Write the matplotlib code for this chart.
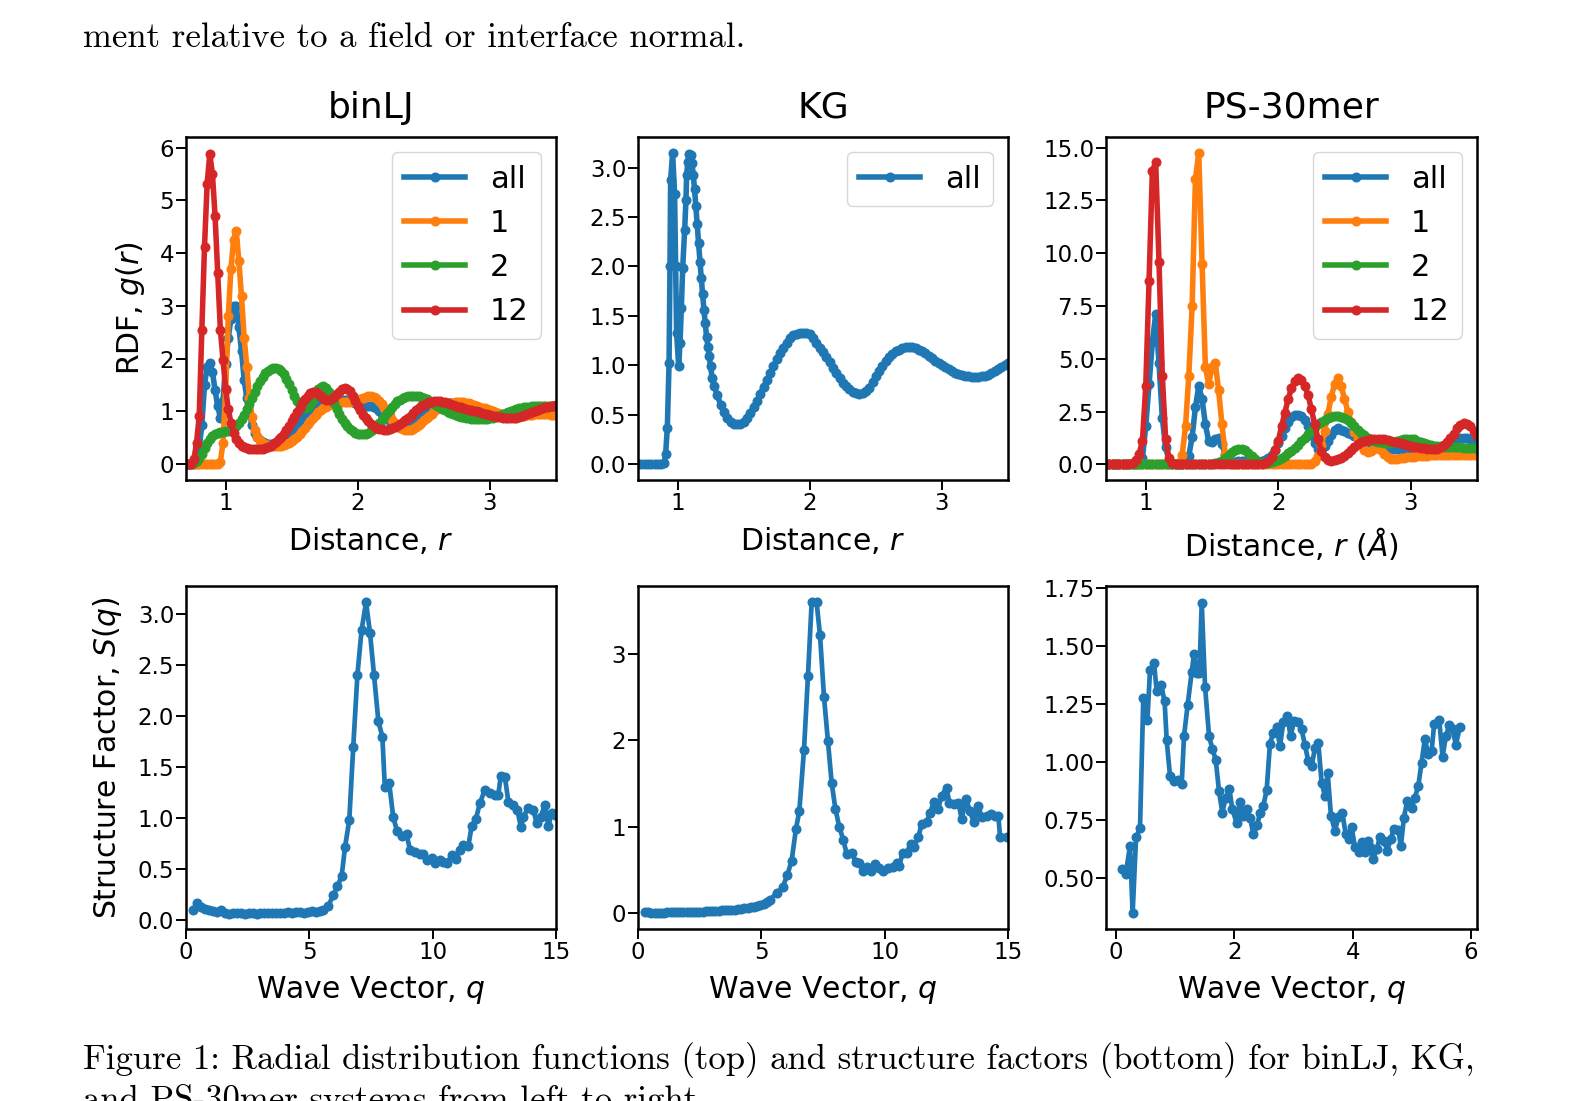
import matplotlib
matplotlib.use("Agg")
import matplotlib.pyplot as plt

# ---------------- binLJ RDF (top left) ----------------
r_lj = [0.70, 0.72, 0.74, 0.76, 0.78, 0.80, 0.82, 0.84, 0.86, 0.88,
        0.90, 0.92, 0.94, 0.96, 0.98, 1.00, 1.02, 1.04, 1.06, 1.08,
        1.10, 1.12, 1.14, 1.16, 1.18, 1.20, 1.22, 1.24, 1.26, 1.28,
        1.30, 1.32, 1.34, 1.36, 1.38, 1.40, 1.42, 1.44, 1.46, 1.48,
        1.50, 1.52, 1.54, 1.56, 1.58, 1.60, 1.62, 1.64, 1.66, 1.68,
        1.70, 1.72, 1.74, 1.76, 1.78, 1.80, 1.82, 1.84, 1.86, 1.88,
        1.90, 1.92, 1.94, 1.96, 1.98, 2.00, 2.02, 2.04, 2.06, 2.08,
        2.10, 2.12, 2.14, 2.16, 2.18, 2.20, 2.22, 2.24, 2.26, 2.28,
        2.30, 2.32, 2.34, 2.36, 2.38, 2.40, 2.42, 2.44, 2.46, 2.48,
        2.50, 2.52, 2.54, 2.56, 2.58, 2.60, 2.62, 2.64, 2.66, 2.68,
        2.70, 2.72, 2.74, 2.76, 2.78, 2.80, 2.82, 2.84, 2.86, 2.88,
        2.90, 2.92, 2.94, 2.96, 2.98, 3.00, 3.02, 3.04, 3.06, 3.08,
        3.10, 3.12, 3.14, 3.16, 3.18, 3.20, 3.22, 3.24, 3.26, 3.28,
        3.30, 3.32, 3.34, 3.36, 3.38, 3.40, 3.42, 3.44, 3.46, 3.48,
        3.50]
g_lj_all = [0, 0, 0, 0, 0.05, 0.3, 0.75, 1.5, 1.85, 1.92,
            1.75, 1.4, 1.1, 0.88, 1.2, 1.9, 2.4, 2.75, 3.0, 3.0,
            2.6, 2.15, 1.6, 1.25, 0.95, 0.75, 0.6, 0.52, 0.46, 0.42,
            0.4, 0.39, 0.39, 0.39, 0.4, 0.42, 0.44, 0.48, 0.52, 0.57,
            0.62, 0.68, 0.74, 0.8, 0.86, 0.92, 0.98, 1.03, 1.08, 1.12,
            1.15, 1.17, 1.18, 1.19, 1.19, 1.2, 1.2, 1.21, 1.22, 1.22,
            1.22, 1.21, 1.2, 1.18, 1.15, 1.12, 1.1, 1.1, 1.1, 1.1,
            1.1, 1.08, 1.06, 1.01, 0.96, 0.9, 0.85, 0.81, 0.77, 0.75,
            0.73, 0.72, 0.73, 0.75, 0.77, 0.8, 0.84, 0.88, 0.92, 0.96,
            1.0, 1.04, 1.07, 1.1, 1.12, 1.14, 1.15, 1.16, 1.16, 1.16,
            1.16, 1.16, 1.15, 1.14, 1.13, 1.12, 1.1, 1.08, 1.07, 1.06,
            1.05, 1.03, 1.02, 1.0, 0.99, 0.98, 0.97, 0.96, 0.95, 0.94,
            0.93, 0.92, 0.92, 0.92, 0.92, 0.92, 0.93, 0.94, 0.95, 0.96,
            0.97, 0.98, 0.99, 1.0, 1.0, 1.0, 1.01, 1.01, 1.01, 1.01,
            1.01]
g_lj_1 = [0, 0, 0, 0, 0, 0, 0, 0, 0, 0,
          0, 0, 0, 0.05, 0.4, 1.4, 2.8, 3.7, 4.25, 4.42,
          3.85, 3.18, 2.4, 1.85, 1.25, 0.9, 0.65, 0.52, 0.45, 0.4,
          0.37, 0.36, 0.35, 0.34, 0.34, 0.34, 0.35, 0.36, 0.38, 0.4,
          0.43, 0.47, 0.52, 0.57, 0.63, 0.69, 0.76, 0.82, 0.88, 0.93,
          0.98, 1.02, 1.06, 1.09, 1.12, 1.14, 1.16, 1.17, 1.17, 1.17,
          1.17, 1.17, 1.18, 1.19, 1.2, 1.22, 1.24, 1.26, 1.28, 1.29,
          1.29, 1.28, 1.25, 1.2, 1.14, 1.06, 0.98, 0.91, 0.84, 0.78,
          0.73, 0.69, 0.66, 0.65, 0.64, 0.65, 0.67, 0.7, 0.74, 0.78,
          0.83, 0.88, 0.92, 0.96, 1.0, 1.04, 1.07, 1.1, 1.12, 1.14,
          1.15, 1.16, 1.17, 1.17, 1.17, 1.17, 1.16, 1.15, 1.14, 1.13,
          1.11, 1.09, 1.07, 1.06, 1.04, 1.02, 1.0, 0.98, 0.97, 0.95,
          0.94, 0.93, 0.92, 0.91, 0.91, 0.91, 0.91, 0.91, 0.92, 0.93,
          0.94, 0.94, 0.95, 0.95, 0.95, 0.95, 0.95, 0.95, 0.94, 0.94,
          0.94]
g_lj_2 = [0, 0, 0, 0.02, 0.06, 0.12, 0.2, 0.3, 0.4, 0.48,
          0.54, 0.58, 0.6, 0.61, 0.61, 0.62, 0.63, 0.65, 0.68, 0.72,
          0.78, 0.85, 0.94, 1.04, 1.14, 1.25, 1.37, 1.48, 1.58, 1.66,
          1.73, 1.77, 1.8, 1.82, 1.83, 1.81, 1.77, 1.7, 1.62, 1.51,
          1.4, 1.3, 1.2, 1.12, 1.07, 1.06, 1.08, 1.14, 1.22, 1.33,
          1.42, 1.47, 1.48, 1.44, 1.36, 1.26, 1.15, 1.05, 0.95, 0.86,
          0.78, 0.72, 0.67, 0.63, 0.6, 0.58, 0.57, 0.57, 0.58, 0.6,
          0.63, 0.67, 0.72, 0.78, 0.84, 0.9, 0.97, 1.03, 1.09, 1.14,
          1.19, 1.22, 1.25, 1.27, 1.29, 1.3, 1.3, 1.3, 1.29, 1.27,
          1.25, 1.23, 1.2, 1.17, 1.14, 1.11, 1.08, 1.05, 1.02, 0.99,
          0.97, 0.95, 0.93, 0.91, 0.9, 0.89, 0.88, 0.87, 0.86, 0.85,
          0.85, 0.85, 0.85, 0.85, 0.86, 0.87, 0.88, 0.89, 0.91, 0.93,
          0.95, 0.97, 0.99, 1.01, 1.03, 1.05, 1.06, 1.07, 1.08, 1.09,
          1.09, 1.1, 1.1, 1.1, 1.1, 1.1, 1.1, 1.1, 1.1, 1.1,
          1.1]
g_lj_12 = [0, 0, 0, 0.09, 0.41, 0.91, 2.55, 4.12, 5.31, 5.88,
           5.5, 4.7, 3.62, 2.55, 1.98, 1.42, 1.05, 0.78, 0.6, 0.48,
           0.4, 0.35, 0.32, 0.3, 0.29, 0.28, 0.28, 0.28, 0.28, 0.29,
           0.31, 0.33, 0.35, 0.38, 0.42, 0.47, 0.52, 0.58, 0.65, 0.73,
           0.82, 0.9, 0.98, 1.07, 1.15, 1.23, 1.3, 1.35, 1.37, 1.36,
           1.33, 1.29, 1.25, 1.22, 1.22, 1.24, 1.28, 1.33, 1.37, 1.42,
           1.44, 1.42, 1.38, 1.3, 1.2, 1.11, 1.02, 0.94, 0.87, 0.81,
           0.76, 0.72, 0.69, 0.67, 0.66, 0.65, 0.65, 0.66, 0.68, 0.7,
           0.73, 0.76, 0.8, 0.84, 0.88, 0.92, 0.97, 1.02, 1.06, 1.1,
           1.13, 1.15, 1.17, 1.18, 1.19, 1.19, 1.19, 1.18, 1.17, 1.16,
           1.14, 1.12, 1.11, 1.09, 1.08, 1.06, 1.05, 1.03, 1.02, 1.01,
           1.0, 0.98, 0.97, 0.96, 0.95, 0.93, 0.92, 0.91, 0.9, 0.89,
           0.88, 0.87, 0.87, 0.87, 0.87, 0.88, 0.89, 0.91, 0.93, 0.95,
           0.97, 0.99, 1.01, 1.03, 1.05, 1.07, 1.08, 1.09, 1.1, 1.11,
           1.12]

# ---------------- KG RDF (top middle) ----------------
r_kg = [0.70, 0.725, 0.75, 0.775, 0.80, 0.825, 0.85, 0.875, 0.90,
        0.909, 0.922, 0.935, 0.942, 0.947, 0.962, 0.977, 0.985, 0.992, 1.008,
        1.018, 1.028, 1.038, 1.053, 1.063, 1.068, 1.078, 1.086, 1.098, 1.108,
        1.118, 1.128, 1.138, 1.148, 1.158, 1.169, 1.179, 1.189, 1.199, 1.209,
        1.219, 1.229, 1.239, 1.249, 1.262,
        1.275, 1.30, 1.325, 1.35, 1.375, 1.40, 1.425, 1.45, 1.475, 1.50,
        1.525, 1.55, 1.575, 1.60, 1.625, 1.65, 1.675, 1.70, 1.725, 1.75,
        1.775, 1.80, 1.825, 1.85, 1.875, 1.90, 1.925, 1.95, 1.975, 2.00,
        2.025, 2.05, 2.075, 2.10, 2.125, 2.15, 2.175, 2.20, 2.225, 2.25,
        2.275, 2.30, 2.325, 2.35, 2.375, 2.40, 2.425, 2.45, 2.475, 2.50,
        2.525, 2.55, 2.575, 2.60, 2.625, 2.65, 2.675, 2.70, 2.725, 2.75,
        2.775, 2.80, 2.825, 2.85, 2.875, 2.90, 2.925, 2.95, 2.975, 3.00,
        3.025, 3.05, 3.075, 3.10, 3.125, 3.15, 3.175, 3.20, 3.225, 3.25,
        3.275, 3.30, 3.325, 3.35, 3.375, 3.40, 3.425, 3.45, 3.475, 3.50]
g_kg = [0, 0, 0, 0, 0, 0, 0, 0, 0.01,
        0.1, 0.37, 1.02, 2.0, 2.88, 3.15, 2.73, 2.0, 1.33, 0.99,
        1.23, 1.58, 1.98, 2.37, 2.67, 2.93, 3.06, 3.14, 3.13, 3.05,
        2.93, 2.78, 2.61, 2.43, 2.24, 2.05, 1.88, 1.72, 1.56, 1.43,
        1.29, 1.19, 1.09, 0.99, 0.87,
        0.79, 0.70, 0.6, 0.53, 0.47, 0.43, 0.41, 0.405, 0.41, 0.43,
        0.47, 0.52, 0.58, 0.64, 0.71, 0.78, 0.85, 0.92, 0.99, 1.06,
        1.12, 1.18, 1.23, 1.28, 1.31, 1.32, 1.33, 1.33, 1.33, 1.32,
        1.28, 1.23, 1.18, 1.13, 1.08, 1.03, 0.97, 0.92, 0.87, 0.82,
        0.79, 0.76, 0.73, 0.72, 0.71, 0.72, 0.74, 0.77, 0.83, 0.89,
        0.94, 0.99, 1.04, 1.08, 1.11, 1.14, 1.16, 1.18, 1.19, 1.19,
        1.19, 1.18, 1.16, 1.14, 1.12, 1.09, 1.07, 1.04, 1.02, 1.0,
        0.98, 0.96, 0.94, 0.92, 0.91, 0.9, 0.895, 0.89, 0.885, 0.88,
        0.885, 0.89, 0.895, 0.9, 0.92, 0.94, 0.96, 0.98, 1.0, 1.02]

# ---------------- PS-30mer RDF (top right) ----------------
r_ps = [0.70, 0.725, 0.75, 0.775, 0.80, 0.825, 0.85, 0.875, 0.90, 0.925,
        0.95, 0.975, 1.00, 1.025, 1.05, 1.075, 1.10, 1.125, 1.15, 1.175,
        1.20, 1.225, 1.25, 1.275, 1.30, 1.325, 1.35, 1.375, 1.40, 1.425,
        1.45, 1.475, 1.50, 1.525, 1.55, 1.575, 1.60, 1.625, 1.65, 1.675,
        1.70, 1.725, 1.75, 1.775, 1.80, 1.825, 1.85, 1.875, 1.90, 1.925,
        1.95, 1.975, 2.00, 2.025, 2.05, 2.075, 2.10, 2.125, 2.15, 2.175,
        2.20, 2.225, 2.25, 2.275, 2.30, 2.325, 2.35, 2.375, 2.40, 2.425,
        2.45, 2.475, 2.50, 2.525, 2.55, 2.575, 2.60, 2.625, 2.65, 2.675,
        2.70, 2.725, 2.75, 2.775, 2.80, 2.825, 2.85, 2.875, 2.90, 2.925,
        2.95, 2.975, 3.00, 3.025, 3.05, 3.075, 3.10, 3.125, 3.15, 3.175,
        3.20, 3.225, 3.25, 3.275, 3.30, 3.325, 3.35, 3.375, 3.40, 3.425,
        3.45, 3.475, 3.50]
g_ps_all = [0, 0, 0, 0, 0, 0, 0, 0, 0, 0,
            0.05, 0.3, 1.8, 3.8, 5.8, 7.1, 4.8, 2.2, 0.8, 0.2,
            0, 0, 0, 0.02, 0.1, 0.4, 1.3, 2.7, 3.7, 3.1,
            1.9, 1.1, 1.05, 1.2, 1.25, 0.95, 0.45, 0.15, 0.1, 0.12,
            0.15, 0.17, 0.15, 0.12, 0.1, 0.1, 0.12, 0.15, 0.2, 0.3,
            0.45, 0.7, 1.0, 1.35, 1.7, 2.0, 2.25, 2.36, 2.35, 2.3,
            2.1, 1.8, 1.4, 1.0, 0.75, 0.7, 0.85, 1.1, 1.4, 1.65,
            1.73, 1.65, 1.57, 1.5, 1.42, 1.35, 1.25, 1.18, 1.1, 1.03,
            0.97, 0.92, 0.87, 0.83, 0.8, 0.77, 0.74, 0.72, 0.71, 0.7,
            0.69, 0.68, 0.67, 0.66, 0.65, 0.64, 0.63, 0.63, 0.63, 0.64,
            0.65, 0.7, 0.78, 0.9, 1.0, 1.1, 1.2, 1.26, 1.27, 1.25,
            1.2, 1.15, 1.1]
g_ps_1 = [0, 0, 0, 0, 0, 0, 0, 0, 0, 0,
          0, 0, 0, 0, 0, 0, 0, 0, 0, 0,
          0, 0, 0.05, 0.45, 1.8, 4.2, 7.5, 13.5, 14.75, 9.5,
          4.6, 3.8, 4.6, 4.8, 3.5, 1.9, 0.5, 0.05, 0, 0,
          0, 0, 0, 0, 0, 0, 0, 0, 0, 0,
          0, 0, 0, 0, 0, 0, 0, 0, 0, 0,
          0, 0, 0.03, 0.15, 0.4, 0.9, 1.6, 2.4, 3.2, 3.8,
          4.1, 3.7, 3.1, 2.5, 2.0, 1.55, 1.2, 0.9, 0.7, 0.6,
          0.65, 0.75, 0.8, 0.7, 0.5, 0.35, 0.27, 0.25, 0.26, 0.28,
          0.3, 0.33, 0.35, 0.37, 0.39, 0.4, 0.41, 0.42, 0.43, 0.44,
          0.44, 0.45, 0.45, 0.45, 0.45, 0.45, 0.45, 0.45, 0.45, 0.45,
          0.45, 0.45, 0.45]
g_ps_2 = [0, 0, 0, 0, 0, 0, 0, 0, 0, 0,
          0, 0, 0, 0, 0, 0, 0, 0, 0, 0,
          0, 0, 0, 0, 0, 0, 0, 0, 0, 0,
          0, 0, 0.02, 0.05, 0.1, 0.18, 0.3, 0.45, 0.6, 0.7,
          0.75, 0.75, 0.68, 0.55, 0.4, 0.27, 0.12, 0.07, 0.05, 0.06,
          0.1, 0.15, 0.22, 0.3, 0.4, 0.52, 0.65, 0.79, 0.94, 1.1,
          1.27, 1.44, 1.6, 1.76, 1.9, 2.02, 2.12, 2.2, 2.25, 2.28,
          2.28, 2.25, 2.18, 2.08, 1.95, 1.8, 1.65, 1.5, 1.37, 1.26,
          1.17, 1.1, 1.06, 1.05, 1.03, 1.02, 1.03, 1.07, 1.12, 1.16,
          1.19, 1.21, 1.21, 1.18, 1.13, 1.07, 1.01, 0.96, 0.92, 0.89,
          0.87, 0.85, 0.84, 0.83, 0.82, 0.81, 0.8, 0.8, 0.79, 0.79,
          0.79, 0.78, 0.78]
g_ps_12 = [0, 0, 0, 0, 0, 0, 0, 0, 0.05, 0.2,
           0.5, 1.1, 3.7, 8.7, 13.9, 14.3, 9.6, 4.2, 1.2, 0.3,
           0.05, 0, 0, 0, 0, 0, 0, 0, 0, 0,
           0, 0, 0, 0, 0, 0, 0, 0, 0, 0,
           0, 0, 0, 0, 0, 0, 0, 0, 0.05, 0.15,
           0.35, 0.7, 1.1, 1.8, 2.45, 3.1, 3.6, 3.95, 4.1, 4.0,
           3.7, 3.3, 2.6, 1.9, 1.2, 0.65, 0.35, 0.2, 0.18, 0.2,
           0.25, 0.32, 0.42, 0.55, 0.68, 0.82, 0.95, 1.05, 1.12, 1.17,
           1.2, 1.21, 1.21, 1.2, 1.18, 1.15, 1.12, 1.08, 1.04, 1.0,
           0.96, 0.92, 0.88, 0.84, 0.81, 0.78, 0.76, 0.75, 0.74, 0.74,
           0.75, 0.8, 0.9, 1.05, 1.25, 1.45, 1.7, 1.88, 1.97, 1.93,
           1.8, 1.6, 1.35]

# ---------------- structure factors (bottom row) ----------------
q_lj = [0.30, 0.46, 0.62, 0.78, 0.94, 1.10, 1.26, 1.42, 1.58, 1.74,
        1.90, 2.06, 2.22, 2.38, 2.54, 2.70, 2.86, 3.02, 3.18, 3.34,
        3.50, 3.66, 3.82, 3.98, 4.14, 4.30, 4.46, 4.62, 4.78, 4.94,
        5.10, 5.26, 5.42, 5.57, 5.77, 5.97, 6.14, 6.31, 6.45, 6.62,
        6.78, 6.95, 7.12, 7.30, 7.46, 7.62, 7.80, 7.96, 8.06, 8.24,
        8.40, 8.56, 8.74, 8.94, 9.08, 9.28, 9.49, 9.62, 9.76, 9.96,
        10.10, 10.30, 10.43, 10.60, 10.77, 10.95, 11.10, 11.24, 11.45, 11.58,
        11.75, 11.92, 12.12, 12.32, 12.52, 12.66, 12.76, 12.93, 13.07, 13.27,
        13.43, 13.58, 13.67, 13.88, 14.08, 14.22, 14.38, 14.55, 14.69, 14.82,
        14.96]
s_lj = [0.10, 0.17, 0.13, 0.11, 0.10, 0.09, 0.08, 0.10, 0.07, 0.06,
        0.07, 0.065, 0.07, 0.06, 0.065, 0.07, 0.06, 0.065, 0.07, 0.065,
        0.07, 0.07, 0.065, 0.07, 0.075, 0.07, 0.08, 0.075, 0.07, 0.08,
        0.085, 0.08, 0.09, 0.10, 0.14, 0.24, 0.33, 0.43, 0.72, 0.98,
        1.70, 2.41, 2.85, 3.12, 2.82, 2.41, 1.95, 1.80, 1.31, 1.34,
        1.01, 0.87, 0.82, 0.84, 0.69, 0.67, 0.65, 0.65, 0.59, 0.61,
        0.56, 0.59, 0.57, 0.56, 0.64, 0.60, 0.69, 0.74, 0.73, 0.92,
        0.99, 1.15, 1.28, 1.25, 1.23, 1.23, 1.41, 1.40, 1.16, 1.13,
        1.08, 0.91, 1.01, 1.10, 1.08, 0.95, 1.01, 1.13, 0.92, 1.05,
        1.03]

q_kg = [0.28, 0.41, 0.54, 0.67, 0.80, 0.93, 1.06, 1.19, 1.32, 1.45,
        1.58, 1.71, 1.84, 1.97, 2.10, 2.23, 2.36, 2.49, 2.62, 2.75,
        2.88, 3.01, 3.14, 3.27, 3.40, 3.53, 3.66, 3.79, 3.92, 4.05,
        4.18, 4.31, 4.44, 4.57, 4.70, 4.83, 4.96, 5.09, 5.22, 5.35,
        5.62, 5.86, 6.05, 6.23, 6.40, 6.54, 6.73, 6.89, 7.04, 7.24,
        7.38, 7.54, 7.70, 7.85, 8.00, 8.16, 8.32, 8.46, 8.66, 8.84,
        8.97, 9.13, 9.30, 9.43, 9.61, 9.78, 9.94, 10.14, 10.32, 10.49,
        10.59, 10.73, 10.89, 11.05, 11.19, 11.36, 11.50, 11.70, 11.84, 12.00,
        12.17, 12.31, 12.51, 12.62, 12.81, 12.99, 13.12, 13.30, 13.46, 13.62,
        13.80, 13.93, 14.13, 14.30, 14.47, 14.61, 14.68, 14.95]
s_kg = [0.015, 0.012, 0.01, 0.01, 0.01, 0.01, 0.01, 0.012, 0.012, 0.013,
        0.014, 0.015, 0.016, 0.017, 0.018, 0.019, 0.02, 0.021, 0.022, 0.024,
        0.026, 0.028, 0.03, 0.032, 0.034, 0.036, 0.039, 0.042, 0.045, 0.049,
        0.053, 0.058, 0.064, 0.07, 0.078, 0.087, 0.097, 0.11, 0.13, 0.16,
        0.23, 0.30, 0.44, 0.61, 0.97, 1.18, 1.89, 2.74, 3.59, 3.59,
        3.21, 2.50, 1.99, 1.51, 1.21, 1.00, 0.85, 0.69, 0.70, 0.59,
        0.58, 0.49, 0.54, 0.49, 0.57, 0.53, 0.49, 0.52, 0.54, 0.58,
        0.55, 0.70, 0.70, 0.80, 0.77, 0.88, 1.03, 1.05, 1.16, 1.29,
        1.21, 1.36, 1.45, 1.28, 1.26, 1.28, 1.09, 1.32, 1.18, 1.05,
        1.24, 1.11, 1.13, 1.15, 1.13, 1.12, 0.88, 0.88]

q_ps = [0.096, 0.164, 0.236, 0.28, 0.338, 0.405, 0.46, 0.53, 0.574, 0.642,
        0.687, 0.76, 0.82, 0.856, 0.912, 0.98, 1.053, 1.109, 1.149, 1.21,
        1.279, 1.318, 1.363, 1.408, 1.448, 1.504, 1.572, 1.628, 1.684, 1.74,
        1.796, 1.853, 1.915, 1.965, 2.038, 2.095, 2.151, 2.207, 2.264, 2.32,
        2.387, 2.432, 2.489, 2.545, 2.601, 2.658, 2.714, 2.77, 2.827, 2.894,
        2.95, 3.007, 3.08, 3.136, 3.193, 3.249, 3.306, 3.362, 3.418, 3.474,
        3.531, 3.576, 3.632, 3.7, 3.757, 3.824, 3.881, 3.937, 3.982, 4.038,
        4.105, 4.162, 4.207, 4.252, 4.291, 4.347, 4.404, 4.46, 4.527, 4.584,
        4.64, 4.696, 4.769, 4.814, 4.865, 4.921, 4.994, 5.05, 5.107, 5.163,
        5.219, 5.276, 5.332, 5.377, 5.462, 5.518, 5.574, 5.631, 5.687, 5.743,
        5.811]
s_ps = [0.539, 0.518, 0.64, 0.348, 0.675, 0.717, 1.275, 1.183, 1.397, 1.426,
        1.305, 1.334, 1.263, 1.094, 0.939, 0.918, 0.925, 0.904, 1.114, 1.247,
        1.39, 1.468, 1.383, 1.383, 1.687, 1.326, 1.111, 1.057, 1.011, 0.875,
        0.782, 0.847, 0.885, 0.796, 0.739, 0.828, 0.768, 0.796, 0.761, 0.689,
        0.728, 0.782, 0.811, 0.879, 1.08, 1.126, 1.151, 1.069, 1.172, 1.198,
        1.112, 1.177, 1.172, 1.141, 1.073, 1.004, 0.983, 1.062, 1.083, 0.911,
        0.854, 0.954, 0.768, 0.704, 0.765, 0.782, 0.689, 0.668, 0.718, 0.632,
        0.611, 0.654, 0.611, 0.661, 0.632, 0.582, 0.625, 0.675, 0.661, 0.618,
        0.668, 0.711, 0.708, 0.639, 0.761, 0.832, 0.804, 0.847, 0.897, 0.997,
        1.1, 1.033, 1.047, 1.166, 1.18, 1.024, 1.111, 1.161, 1.141, 1.076,
        1.151]

titles = ["binLJ", "KG", "PS-30mer"]
series_labels = ["all", "1", "2", "12"]
colors = ["#1f77b4", "#ff7f0e", "#2ca02c", "#d62728"]

plt.rcParams.update({
    "font.family": "DejaVu Sans",
    "axes.linewidth": 1.8,
    "xtick.major.size": 7.5, "ytick.major.size": 7.5,
    "xtick.major.width": 1.4, "ytick.major.width": 1.4,
    "xtick.labelsize": 16.5, "ytick.labelsize": 16.5,
    "xtick.major.pad": 1.0, "ytick.major.pad": 1.0,
    "axes.labelsize": 21.5, "axes.titlesize": 26,
    "axes.labelpad": 7.5,
    "legend.fontsize": 22,
    "lines.markersize": 6.2,
})

fig = plt.figure(figsize=(15.70, 11.01), dpi=100)
W, H = 1570.0, 1101.0

def box(l, t, r, b):
    return [l / W, 1 - b / H, (r - l) / W, (b - t) / H]

ax_lj = fig.add_axes(box(186, 137, 556, 480))
ax_kg = fig.add_axes(box(638, 137, 1008, 480))
ax_ps = fig.add_axes(box(1106, 137, 1477, 480))
bx_lj = fig.add_axes(box(186, 586, 556, 929))
bx_kg = fig.add_axes(box(638, 586, 1008, 929))
bx_ps = fig.add_axes(box(1106, 586, 1477, 929))

### top row: RDFs (dense sampling -> thick banded lines)
rdf_lw = 4.0
for g, lab, c in zip([g_lj_all, g_lj_1, g_lj_2, g_lj_12], series_labels, colors):
    ax_lj.plot(r_lj, g, "-o", color=c, lw=rdf_lw, label=lab)
ax_kg.plot(r_kg, g_kg, "-o", color=colors[0], lw=rdf_lw, label="all")
for g, lab, c in zip([g_ps_all, g_ps_1, g_ps_2, g_ps_12], series_labels, colors):
    ax_ps.plot(r_ps, g, "-o", color=c, lw=rdf_lw, label=lab)

for ax, t in zip([ax_lj, ax_kg, ax_ps], titles):
    ax.set_title(t, pad=14)
    ax.set_xlim(0.7, 3.5)
    ax.set_xticks([1, 2, 3])
    ax.legend(loc="upper right")

ax_lj.set_ylim(-0.3, 6.2)
ax_lj.set_yticks([0, 1, 2, 3, 4, 5, 6])
ax_kg.set_ylim(-0.16, 3.31)
ax_kg.set_yticks([0, 0.5, 1.0, 1.5, 2.0, 2.5, 3.0])
ax_ps.set_ylim(-0.74, 15.5)
ax_ps.set_yticks([0, 2.5, 5, 7.5, 10, 12.5, 15])

ax_lj.set_xlabel("Distance, $r$")
ax_kg.set_xlabel("Distance, $r$")
ax_ps.set_xlabel(r"Distance, $r$ ($\AA$)")
ax_lj.set_ylabel("RDF, $g(r)$", labelpad=9)

### bottom row: structure factors
bx_lj.plot(q_lj, s_lj, "-o", color=colors[0], lw=3.4)
bx_kg.plot(q_kg, s_kg, "-o", color=colors[0], lw=3.4)
bx_ps.plot(q_ps, s_ps, "-o", color=colors[0], lw=3.4)

for bx in [bx_lj, bx_kg]:
    bx.set_xlim(0, 15)
    bx.set_xticks([0, 5, 10, 15])
bx_ps.set_xlim(-0.17, 6.1)
bx_ps.set_xticks([0, 2, 4, 6])

bx_lj.set_ylim(-0.09, 3.28)
bx_lj.set_yticks([0, 0.5, 1.0, 1.5, 2.0, 2.5, 3.0])
bx_kg.set_ylim(-0.18, 3.78)
bx_kg.set_yticks([0, 1, 2, 3])
bx_ps.set_ylim(0.28, 1.76)
bx_ps.set_yticks([0.5, 0.75, 1.0, 1.25, 1.5, 1.75])

for bx in [bx_lj, bx_kg, bx_ps]:
    bx.set_xlabel("Wave Vector, $q$")
bx_lj.set_ylabel("Structure Factor, $S(q)$", labelpad=10)

# surrounding page text from the paper
page_font = dict(family="cmr10", fontsize=25, va="baseline")
fig.text(83 / W, 1 - 47 / H, "ment relative to a field or interface normal.",
         **page_font)
fig.text(83 / W, 1 - 1069 / H,
         "Figure 1: Radial distribution functions (top) and structure factors "
         "(bottom) for binLJ, KG,", **page_font)
fig.text(83 / W, 1 - 1110 / H, "and PS-30mer systems from left to right.",
         **page_font)

fig.savefig("out.png", dpi=100)
